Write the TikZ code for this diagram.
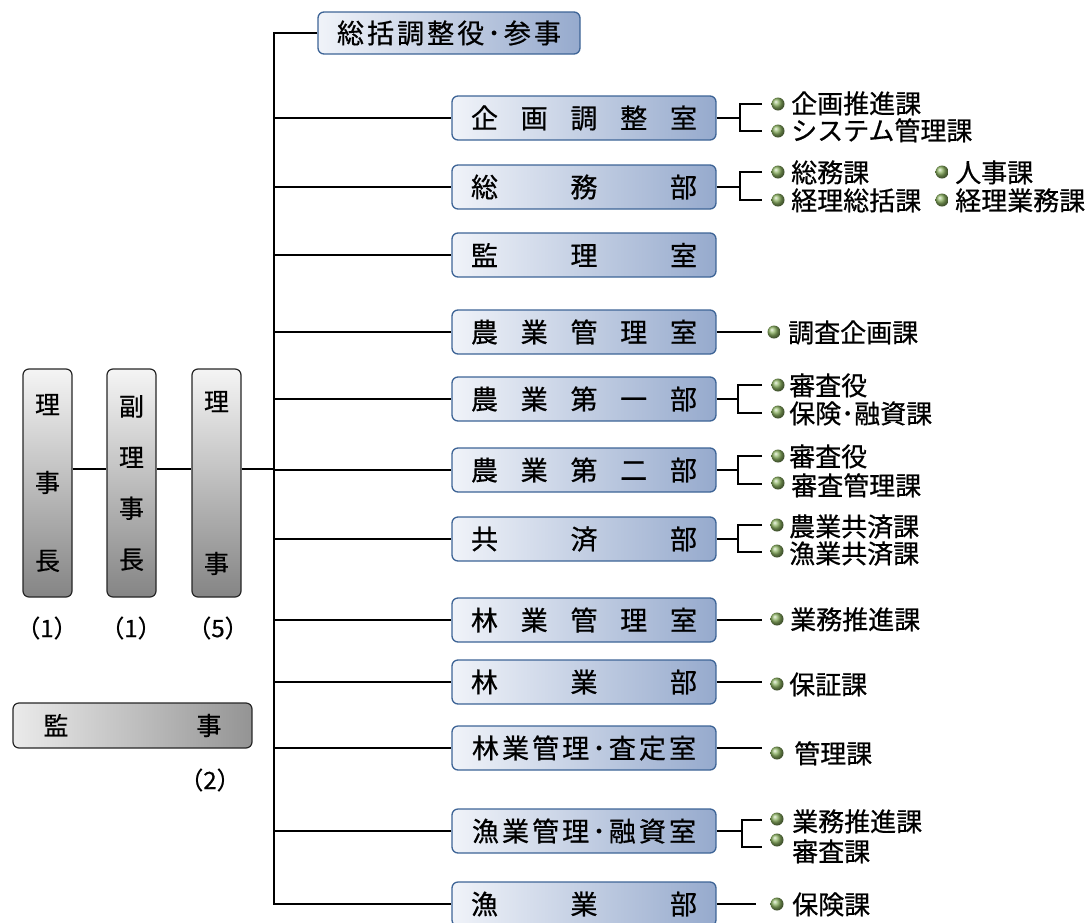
\documentclass[tikz,border=0pt]{standalone}
\usepackage{fontspec}
\setmainfont{Noto Sans CJK JP}[AutoFakeBold=0.6]
\usetikzlibrary{calc}
\definecolor{bdr}{RGB}{61,100,150}
\definecolor{bl}{RGB}{240,243,249}
\definecolor{br}{RGB}{150,170,205}
\definecolor{bul}{RGB}{140,178,98}
\tikzset{
  conn/.style={line width=2.8pt, black},
  bluebox/.style={rounded corners=6pt, draw=bdr, line width=1.3pt, left color=bl, right color=br,
     minimum width=264pt, minimum height=44pt, inner sep=0pt, font=\fontsize{27}{30}\selectfont\bfseries},
  vbox/.style={rounded corners=6pt, draw=black!85, line width=1.2pt, top color=black!4, bottom color=black!48,
     minimum width=49pt, minimum height=228pt, inner sep=0pt, align=center, font=\fontsize{25}{28}\selectfont\bfseries},
  hgbox/.style={rounded corners=6pt, draw=black!85, line width=1.2pt, left color=black!8, right color=black!42,
     minimum width=239pt, minimum height=45pt, inner sep=0pt, font=\fontsize{25}{28}\selectfont\bfseries},
  dot/.style={circle, minimum size=13pt, inner sep=0pt, ball color=bul},
  lbl/.style={anchor=west, inner sep=0pt, text height=21pt, text depth=2.5pt, font=\fontsize{26}{30}\selectfont\bfseries},
  num/.style={inner sep=0pt, font=\fontsize{24}{28}\selectfont\bfseries}
}
\newcommand{\spr}[1]{\makebox[226pt][s]{#1}}
\begin{document}
\begin{tikzpicture}[x=1pt,y=-1pt]
\useasboundingbox (0,0) rectangle (1088,922);
% left column
\node[vbox] (chair) at (47.5,483) {理\\[50pt]事\\[50pt]長};
\node[vbox] (vice) at (131.5,483) {副\\[23pt]理\\[23pt]事\\[23pt]長};
\node[vbox] (dir) at (216.5,483) {理\\[134pt]事};
\node[num] (n1) at (47,628) {（1）};
\node[num] (n2) at (131,628) {（1）};
\node[num] (n3) at (218,628) {（5）};
\node[hgbox] (audit) at (132.5,725.5) {\makebox[178pt][s]{監\hfill 事}};
\node[num] (n4) at (210,780) {（2）};
\coordinate (ly) at (0,469);
\coordinate (sp) at (274,0);
\draw[conn] (chair.east |- ly) -- (vice.west |- ly);
\draw[conn] (vice.east |- ly) -- (dir.west |- ly);
\draw[conn] (dir.east |- ly) -- (sp |- ly);
% boxes
\node[bluebox, minimum width=262pt, minimum height=42pt] (top) at (449,33) {\makebox[224pt][s]{総\hfill 括\hfill 調\hfill 整\hfill 役\hfill ･\hfill 参\hfill 事}};
\node[bluebox] (kikaku) at (584,118) {\spr{企\hfill 画\hfill 調\hfill 整\hfill 室}};
\node[bluebox] (soumu) at (584,187) {\spr{総\hfill 務\hfill 部}};
\node[bluebox] (kanri) at (584,255) {\spr{監\hfill 理\hfill 室}};
\node[bluebox] (nkanri) at (584,332) {\spr{農\hfill 業\hfill 管\hfill 理\hfill 室}};
\node[bluebox] (none) at (584,399) {\spr{農\hfill 業\hfill 第\hfill 一\hfill 部}};
\node[bluebox] (ntwo) at (584,470) {\spr{農\hfill 業\hfill 第\hfill 二\hfill 部}};
\node[bluebox] (kyousai) at (584,539) {\spr{共\hfill 済\hfill 部}};
\node[bluebox] (rkanri) at (584,620) {\spr{林\hfill 業\hfill 管\hfill 理\hfill 室}};
\node[bluebox] (ringyo) at (584,682) {\spr{林\hfill 業\hfill 部}};
\node[bluebox] (rsatei) at (584,748) {\makebox[224pt][s]{林\hfill 業\hfill 管\hfill 理\hfill ･\hfill 査\hfill 定\hfill 室}};
\node[bluebox] (gkanri) at (584,831) {\makebox[224pt][s]{漁\hfill 業\hfill 管\hfill 理\hfill ･\hfill 融\hfill 資\hfill 室}};
\node[bluebox] (gyobu) at (584,904) {\spr{漁\hfill 業\hfill 部}};
% spine
\draw[conn] (top.west) -- (top.west -| sp) -- (sp |- gyobu.west) -- (gyobu.west);
\foreach \b in {kikaku,soumu,kanri,nkanri,none,ntwo,kyousai,rkanri,ringyo,rsatei,gkanri}
  \draw[conn] (sp |- \b.west) -- (\b.west);
% right side: brackets
\newcommand{\brk}[4]{% box, top y, bottom y, bracket x
  \coordinate (#1-a) at (762,#2);
  \coordinate (#1-b) at (762,#3);
  \coordinate (#1-v) at (#4,0);
  \draw[conn] (#1.east) -- (#1.east -| #1-v);
  \draw[conn] (#1-a) -| (#1-v |- #1-b) -- (#1-b);
}
\newcommand{\single}[2]{% box, end x
  \coordinate (#1-e) at (#2,0);
  \draw[conn] (#1.east) -- (#1.east -| #1-e);
}
\brk{kikaku}{104}{131}{740}
\node[dot] (d1) at (778,104) {}; \node[lbl] (t1) at (791,104) {企画推進課};
\node[dot] (d2) at (778,131) {}; \node[lbl] (t2) at (791,131) {システム管理課};
\brk{soumu}{172}{200}{740}
\node[dot] (d3) at (778,172) {}; \node[lbl] (t3) at (791,173) {総務課};
\node[dot] (d4) at (778,200) {}; \node[lbl] (t4) at (791,201) {経理総括課};
\node[dot] (d5) at (942,172) {}; \node[lbl] (t5) at (955,173) {人事課};
\node[dot] (d6) at (942,200) {}; \node[lbl] (t6) at (955,201) {経理業務課};
\single{nkanri}{762}
\node[dot] (d7) at (774,332) {}; \node[lbl] (t7) at (788,333) {調査企画課};
\brk{none}{385}{413}{738}
\node[dot] (d8) at (778,385) {}; \node[lbl] (t8) at (789,386) {審査役};
\node[dot] (d9) at (778,412) {}; \node[lbl] (t9) at (789,414) {保険･融資課};
\brk{ntwo}{456}{484}{738}
\node[dot] (d10) at (778,456) {}; \node[lbl] (t10) at (789,457) {審査役};
\node[dot] (d11) at (778,483) {}; \node[lbl] (t11) at (791,486) {審査管理課};
\brk{kyousai}{525}{552}{738}
\node[dot] (d12) at (777,525) {}; \node[lbl] (t12) at (789,527) {農業共済課};
\node[dot] (d13) at (777,551) {}; \node[lbl] (t13) at (789,554) {漁業共済課};
\single{rkanri}{762}
\node[dot] (d14) at (777,619) {}; \node[lbl] (t14) at (790,620) {業務推進課};
\single{ringyo}{762}
\node[dot] (d15) at (777,684) {}; \node[lbl] (t15) at (789,685) {保証課};
\single{rsatei}{762}
\node[dot] (d16) at (777,753) {}; \node[lbl] (t16) at (794,754) {管理課};
\brk{gkanri}{820}{847}{742}
\node[dot] (d17) at (777,819) {}; \node[lbl] (t17) at (792,822) {業務推進課};
\node[dot] (d18) at (777,840) {}; \node[lbl] (t18) at (792,852) {審査課};
\single{gyobu}{756}
\node[dot] (d19) at (777,904) {}; \node[lbl] (t19) at (792,905) {保険課};
\end{tikzpicture}
\end{document}
